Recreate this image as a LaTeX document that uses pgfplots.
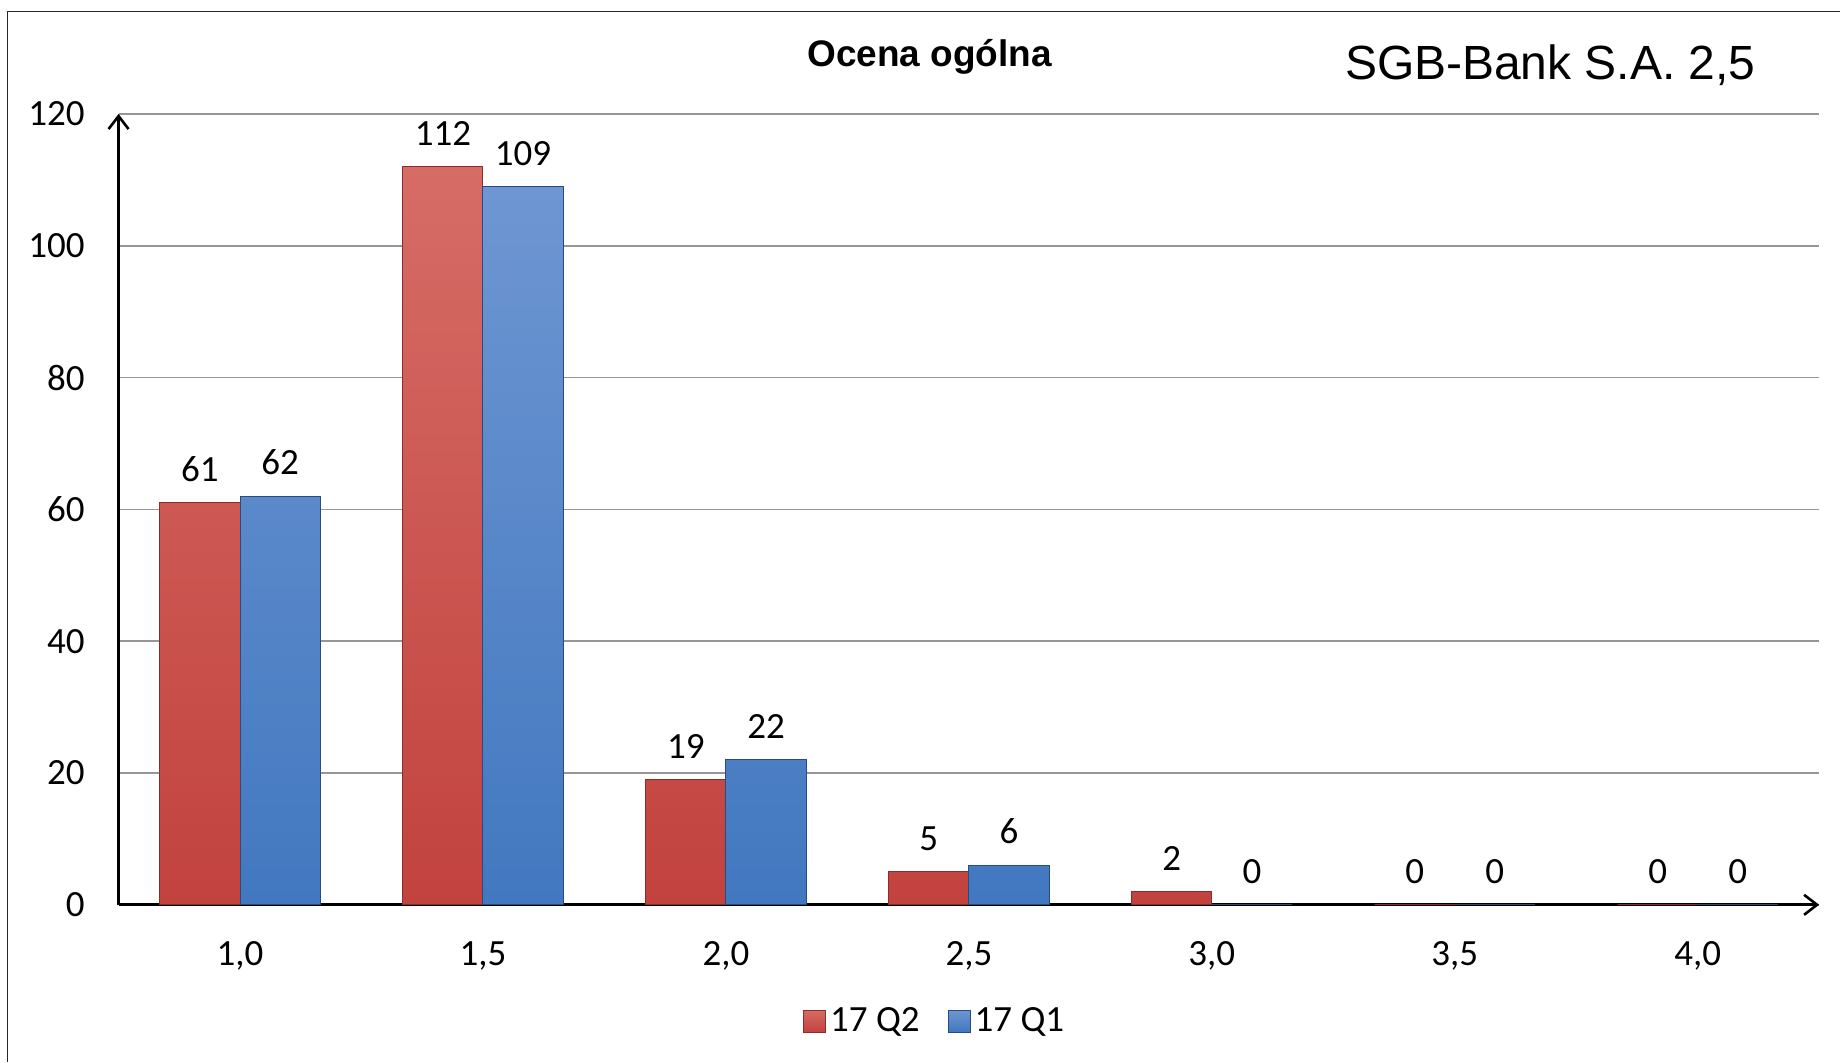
\documentclass[border=0pt]{standalone}
\usepackage{pgfplots}
\pgfplotsset{compat=1.18}
\usetikzlibrary{arrows.meta}
\usepackage{fontspec}
\setmainfont{Carlito}
\newfontfamily\arial{Liberation Sans}
\definecolor{redtop}{RGB}{214,108,102}
\definecolor{redbot}{RGB}{194,66,62}
\definecolor{redborder}{RGB}{140,45,42}
\definecolor{bluetop}{RGB}{110,150,210}
\definecolor{bluebot}{RGB}{66,120,192}
\definecolor{blueborder}{RGB}{40,75,130}
\definecolor{gridgray}{RGB}{150,150,150}
\pgfplotsset{
  layers/mylayers/.define layer set={axis background,axis grid,axis ticks,pre main,main,axis lines,axis tick labels,axis descriptions,axis foreground}{},
}
\begin{document}
\begin{tikzpicture}
\path (0,0) rectangle (920.5pt,531pt);
\draw[line width=0.8pt, black!85] (3.8pt,0pt) -- (3.8pt,525.3pt) -- (920.5pt,525.3pt);
\begin{axis}[
  set layers=mylayers,
  at={(59.3pt,78.4pt)}, anchor=south west,
  scale only axis, width=850.7pt, height=395.6pt,
  xmin=-0.5, xmax=6.5, ymin=0, ymax=120,
  axis lines=left,
  axis line style={line width=1.3pt, -{Straight Barb[length=6.5pt,width=10pt,line width=1.3pt]}},
  ybar=0pt, bar width=0.33,
  xtick={0,1,2,3,4,5,6},
  xticklabels={{1,0},{1,5},{2,0},{2,5},{3,0},{3,5},{4,0}},
  ytick={0,20,40,60,80,100,120},
  major tick length=0pt,
  ymajorgrids, grid style={gridgray, line width=0.8pt},
  /pgf/number format/assume math mode=true,
  tick label style={font=\fontsize{18.5}{20}\selectfont},
  yticklabel style={xshift=-13.5pt},
  xticklabel style={yshift=-15pt},
  nodes near coords,
  every node near coord/.append style={font=\fontsize{18.5}{20}\selectfont, black, yshift=7pt},
  legend columns=2,
  legend style={at={(0.4805,-0.147)}, anchor=center, draw=none, fill=none,
    font=\fontsize{18.5}{20}\selectfont,
    /tikz/every even column/.append style={column sep=12pt}},
  legend image code/.code={\draw[#1] (0pt,-5.5pt) rectangle (11pt,5.5pt);},
  clip=false,
]
\addplot[draw=redborder, line width=0.5pt, shade, top color=redtop, bottom color=redbot]
  coordinates {(0,61) (1,112) (2,19) (3,5) (4,2) (5,0) (6,0)};
\addplot[draw=blueborder, line width=0.5pt, shade, top color=bluetop, bottom color=bluebot]
  coordinates {(0,62) (1,109) (2,22) (3,6) (4,0) (5,0) (6,0)};
\legend{17 Q2, 17 Q1}
\end{axis}
\node[font=\arial\bfseries\fontsize{18.5}{20}\selectfont] at (465pt,502.7pt) {Ocena ogólna};
\node[font=\arial\fontsize{24}{26}\selectfont] at (775.5pt,498.2pt) {SGB-Bank S.A. 2,5};
\end{tikzpicture}
\end{document}
